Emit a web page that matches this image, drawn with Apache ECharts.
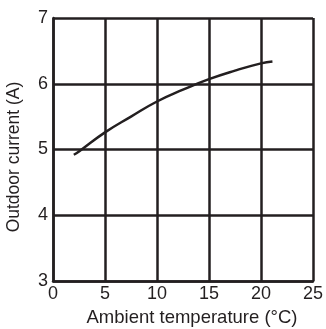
<!DOCTYPE html>
<html>
<head>
<meta charset="utf-8">
<script src="https://cdn.jsdelivr.net/npm/echarts@6/dist/echarts.min.js"></script>
<style>html,body{margin:0;padding:0;background:#fff;}#c{width:326px;height:329px;}</style>
</head>
<body>
<div id="c"></div>
<script>
var xName = 'Ambient temperature (°C)';
var yName = 'Outdoor current (A)';
var temps = [2, 2.5, 5, 7.5, 10, 12.5, 15, 17.5, 20, 21.1];
var currents = [4.92, 4.97, 5.26, 5.5, 5.73, 5.91, 6.07, 6.2, 6.31, 6.34];

var ink = '#231f20';
var chart = echarts.init(document.getElementById('c'));
chart.setOption({
  animation: false,
  backgroundColor: '#fff',
  grid: {left: 53, right: 13, top: 18, bottom: 48, containLabel: false, outerBoundsMode: 'none'},
  xAxis: {
    type: 'value', min: 0, max: 25, interval: 5,
    name: xName, nameLocation: 'middle', nameGap: 27,
    nameTextStyle: {fontFamily: 'Liberation Sans', fontSize: 18.5, color: ink, padding: [0, 0, 0, 18]},
    axisLine: {show: true, lineStyle: {color: ink, width: 2.5}},
    axisTick: {show: false},
    axisLabel: {fontFamily: 'Liberation Sans', fontSize: 18, color: ink, margin: 4},
    splitLine: {show: true, lineStyle: {color: ink, width: 2.5}}
  },
  yAxis: {
    type: 'value', min: 3, max: 7, interval: 1,
    name: yName, nameLocation: 'middle', nameGap: 30, nameRotate: 90,
    nameTextStyle: {fontFamily: 'Liberation Sans', fontSize: 17.5, color: ink, padding: [0, 15, 0, 0]},
    axisLine: {show: true, lineStyle: {color: ink, width: 2.5}},
    axisTick: {show: false},
    axisLabel: {fontFamily: 'Liberation Sans', fontSize: 18, color: ink, margin: 5},
    splitLine: {show: true, lineStyle: {color: ink, width: 2.5}}
  },
  series: [{
    type: 'line',
    data: temps.map(function (t, i) { return [t, currents[i]]; }),
    smooth: true,
    showSymbol: false,
    lineStyle: {color: ink, width: 2.5}
  }]
});
</script>
</body>
</html>
